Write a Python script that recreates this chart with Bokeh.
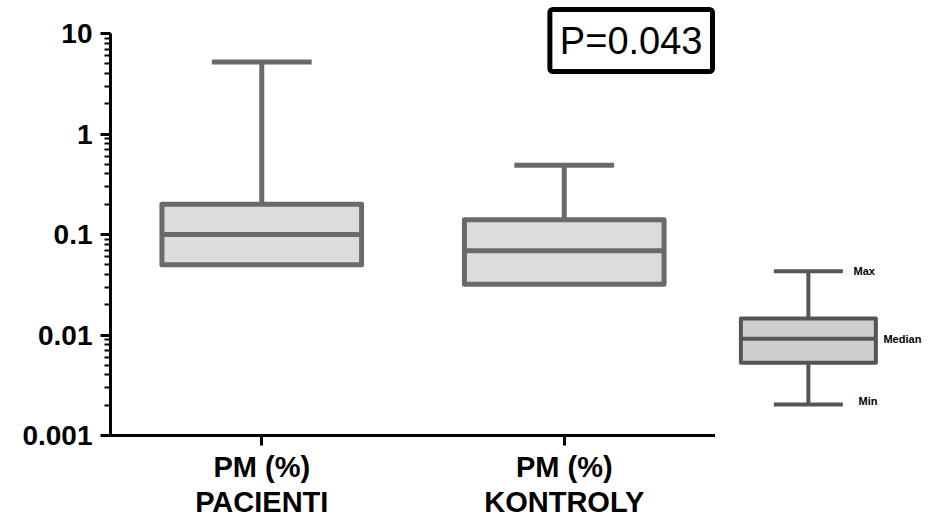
from bokeh.plotting import figure
from bokeh.layouts import row, column
from bokeh.models import Range1d, FixedTicker, CustomJSTickFormatter, Label
from bokeh.embed import file_html
from bokeh.resources import INLINE
from bokeh.core.properties import value

# Box statistics per group (PM in %)
group_line1 = ["PM (%)", "PM (%)"]
group_line2 = ["PACIENTI", "KONTROLY"]
q1 = [0.05, 0.032]
median = [0.10, 0.069]
q3 = [0.20, 0.14]
upper = [5.2, 0.49]

# Explanatory key drawn beside the plot
key_labels = ["Max", "Median", "Min"]
key_stats = {"min": 0.00203, "q1": 0.0053, "median": 0.0092, "q3": 0.0146, "max": 0.043}

p_text = "P=0.043"

FONT = "Liberation Sans"
BOX_LINE = "#6a6a6a"
BOX_FILL = "#dcdcdc"

# axis spans 0.001..10; a little headroom above for the P-value box
Y_LO, Y_HI = 0.001, 10
Y_TOP = 10 ** (1 + 33 / 100.5)

pos = [0.5, 1.5]
half_w = 0.33
cap_half = 0.165

MAIN_H = 452
STRIP_H = 64

p = figure(width=715, height=MAIN_H, y_axis_type="log",
           x_range=Range1d(0, 2), y_range=Range1d(Y_LO, Y_TOP),
           output_backend="svg", toolbar_location=None,
           min_border_left=110, min_border_right=0,
           min_border_top=0, min_border_bottom=MAIN_H - 435)
p.outline_line_color = None
p.xgrid.visible = False
p.ygrid.visible = False
p.background_fill_color = "white"

# whiskers (upper only) and caps
p.segment(x0=pos, y0=q3, x1=pos, y1=upper, line_color=BOX_LINE, line_width=5)
p.segment(x0=[x - cap_half for x in pos], y0=upper,
          x1=[x + cap_half for x in pos], y1=upper,
          line_color=BOX_LINE, line_width=5, line_cap="butt")
# boxes
p.quad(left=[x - half_w for x in pos], right=[x + half_w for x in pos],
       bottom=q1, top=q3, fill_color=BOX_FILL, line_color=BOX_LINE,
       line_width=5, line_join="round")
# medians
p.segment(x0=[x - half_w for x in pos], y0=median,
          x1=[x + half_w for x in pos], y1=median,
          line_color=BOX_LINE, line_width=5)

for ax in (p.xaxis[0], p.yaxis[0]):
    ax.axis_line_color = "black"
    ax.axis_line_width = 3
    ax.major_tick_line_color = "black"
    ax.major_tick_line_width = 3
    ax.major_tick_out = 10
    ax.major_tick_in = 0
    ax.minor_tick_line_color = "black"
    ax.minor_tick_line_width = 2
    ax.minor_tick_out = 6
    ax.minor_tick_in = 0
    ax.major_label_text_font = FONT
    ax.major_label_text_font_style = "bold"
    ax.major_label_text_font_size = "28px"
    ax.major_label_text_color = "black"

p.yaxis.bounds = (Y_LO, Y_HI)
p.yaxis.formatter = CustomJSTickFormatter(code="return tick.toString();")
p.yaxis.major_label_standoff = 8

# category ticks; their two-line names are set in the strip below
p.xaxis.ticker = FixedTicker(ticks=pos)
p.xaxis.minor_tick_line_color = None
p.xaxis.major_label_overrides = {x: "" for x in pos}
p.xaxis.major_label_text_font_size = "0px"
p.xaxis.major_label_standoff = 0

p.add_layout(Label(x=602, y=426, x_units="screen", y_units="screen",
                   anchor="top_right", text=p_text, text_font=FONT,
                   text_font_size="38px", text_color="black",
                   border_line_color="black", border_line_width=5,
                   border_radius=3, background_fill_color="white",
                   padding=(10, 10)))

# strip holding the category names under the ticks
s = figure(width=715, height=STRIP_H, x_range=p.x_range, y_range=Range1d(0, STRIP_H),
           x_axis_location=None, y_axis_location=None,
           output_backend="svg", toolbar_location=None,
           min_border_left=110, min_border_right=0,
           min_border_top=0, min_border_bottom=0)
s.outline_line_color = None
s.xgrid.visible = False
s.ygrid.visible = False
for txt, ym in ((group_line1, 50), (group_line2, 15)):
    s.text(x=pos, y=[ym] * len(pos), text=txt, text_font=value(FONT),
           text_font_style="bold", text_font_size="29px",
           text_align="center", text_baseline="middle", text_color="black")

# key panel
k = figure(width=217, height=516, y_axis_type="log",
           x_range=Range1d(0, 1), y_range=Range1d(Y_LO, Y_TOP),
           x_axis_location=None, y_axis_location=None,
           output_backend="svg", toolbar_location=None,
           min_border_left=0, min_border_right=0,
           min_border_top=0, min_border_bottom=81)
k.outline_line_color = None
k.xgrid.visible = False
k.ygrid.visible = False

KEY_LINE = "#555555"
kx = 0.428
kw = 0.311
kc = 0.159
k.segment(x0=[kx, kx], y0=[key_stats["q3"], key_stats["q1"]],
          x1=[kx, kx], y1=[key_stats["max"], key_stats["min"]],
          line_color=KEY_LINE, line_width=4)
k.segment(x0=[kx - kc, kx - kc], y0=[key_stats["max"], key_stats["min"]],
          x1=[kx + kc, kx + kc], y1=[key_stats["max"], key_stats["min"]],
          line_color=KEY_LINE, line_width=4, line_cap="butt")
k.quad(left=[kx - kw], right=[kx + kw], bottom=[key_stats["q1"]], top=[key_stats["q3"]],
       fill_color="#cfcfcf", line_color=KEY_LINE, line_width=4, line_join="round")
k.segment(x0=[kx - kw], y0=[key_stats["median"]], x1=[kx + kw], y1=[key_stats["median"]],
          line_color=KEY_LINE, line_width=4)
k.text(x=[0.636, 0.774, 0.659],
       y=[key_stats["max"], key_stats["median"], key_stats["min"] * 1.08],
       text=key_labels, text_font=value(FONT), text_font_style="bold",
       text_font_size="11px", text_baseline="middle", text_align="left",
       text_color="black")

layout = row(column(p, s, spacing=0), k, spacing=0)
open("out.html", "w").write(file_html(layout, INLINE))
